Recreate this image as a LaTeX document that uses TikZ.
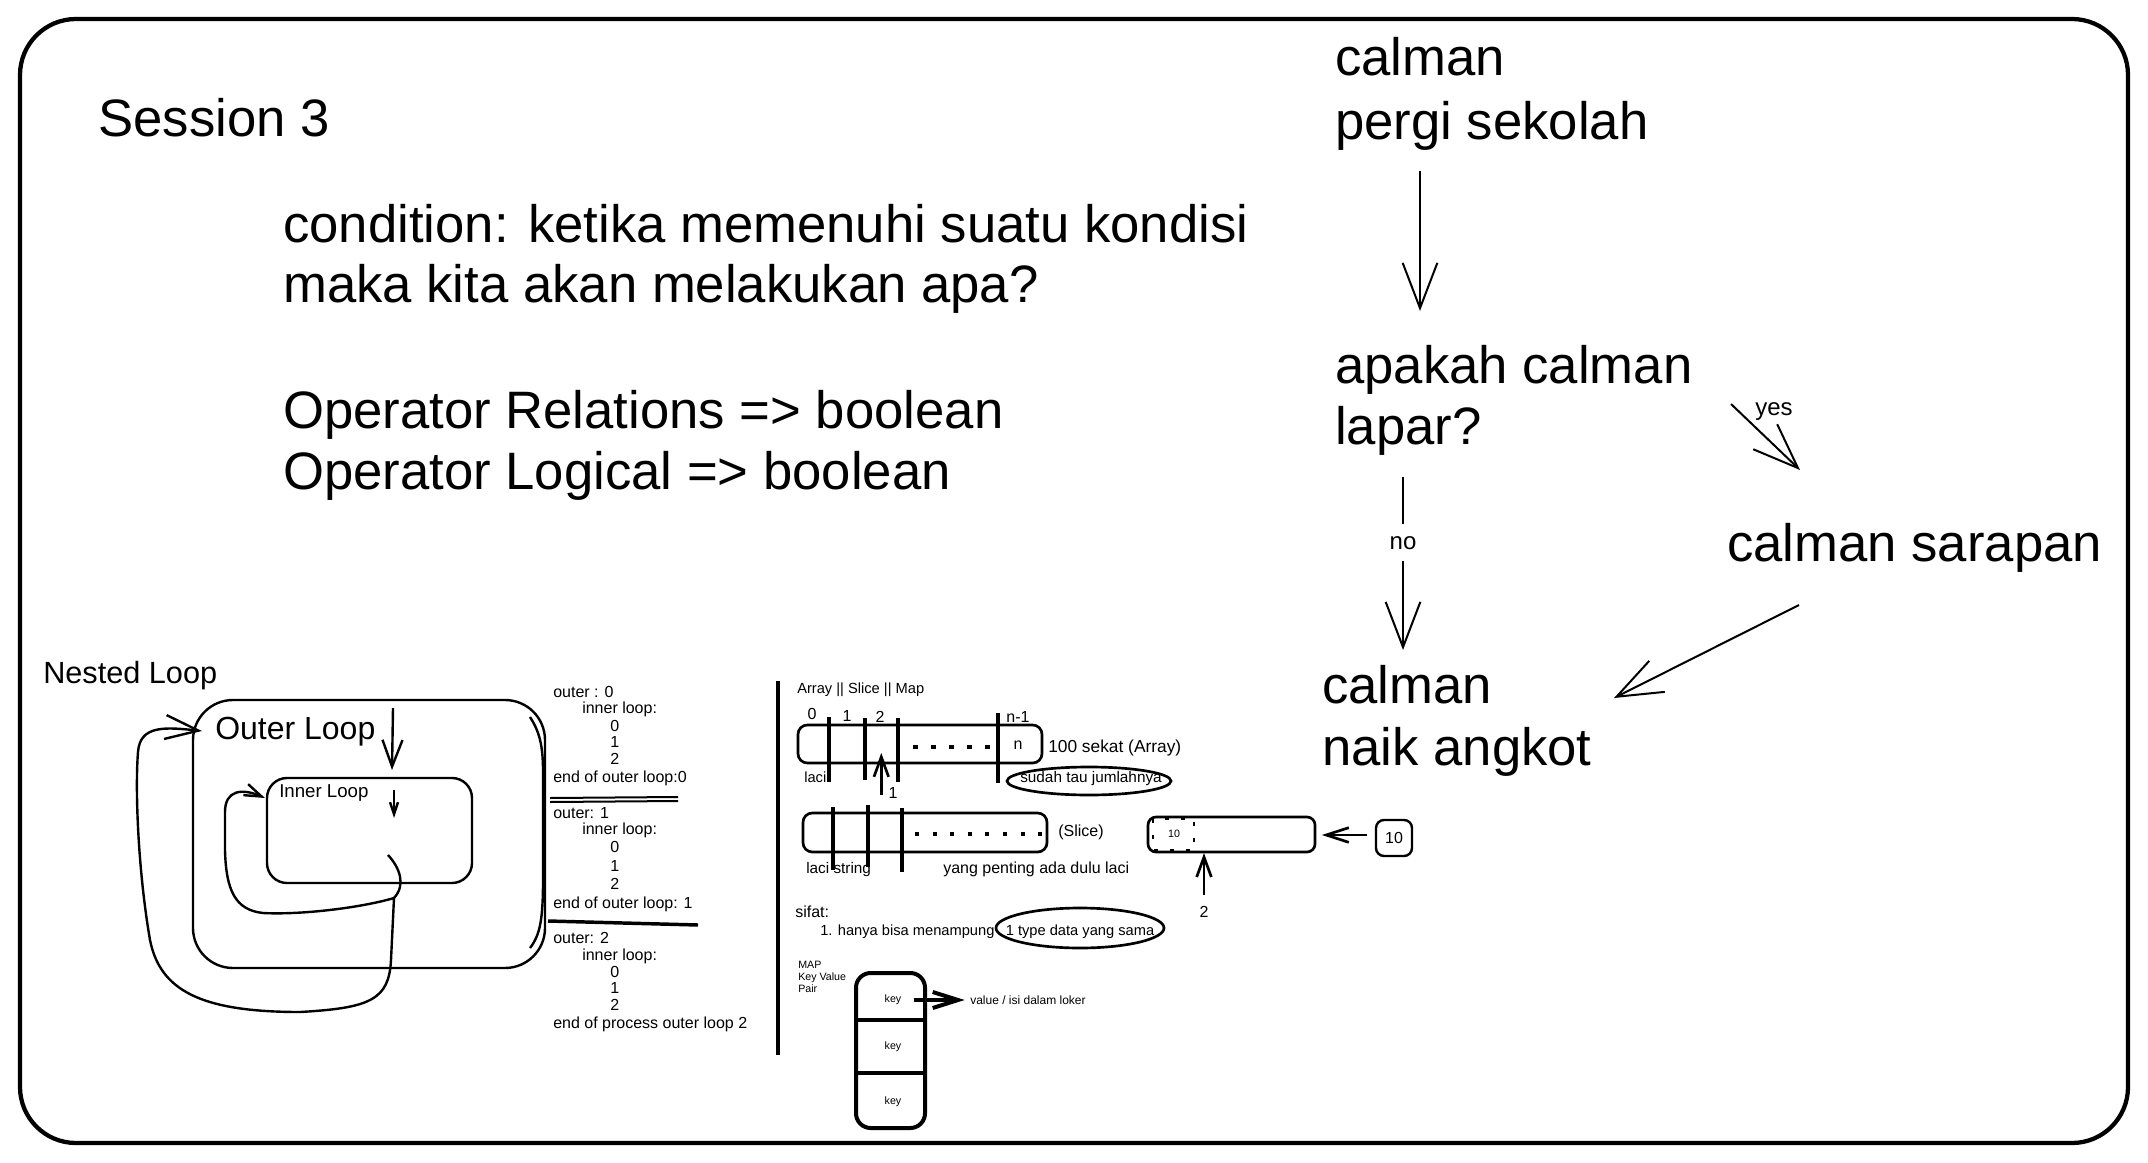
\documentclass[tikz,border=0pt]{standalone}
\usepackage{fontspec}
\setmainfont{Liberation Sans}
\usetikzlibrary{positioning}
\usetikzlibrary{calc}
\usetikzlibrary{arrows.meta}

\begin{document}
\begin{tikzpicture}[x=0.75pt,y=0.75pt,yscale=-1,xscale=1,
        big/.style={anchor=base west,inner sep=0pt,font=\fontsize{39.5}{47}\selectfont},
        tiny/.style={inner sep=0pt,font=\fontsize{12}{14}\selectfont},
        flow/.style={line width=1.5pt,-{Straight Barb[length=34pt,width=26pt]}},
        loopline/.style={line width=1.8pt},
        boxline/.style={line width=2pt},
        sekat/.style={line width=2.4pt},
        uparrow/.style={line width=2pt,-{Straight Barb[length=15pt,width=11pt]}}]
    \useasboundingbox (0,0) rectangle (2148,1163);
    \draw [line width=3.2pt,rounded corners=42pt] (20,19) rectangle (2128,1143);

    % heading and notes
    \node [big] (title) at (98,137) {Session 3};
    \node [big] (cond1) at (283,242) {condition: ketika memenuhi suatu kondisi};
    \node [big] (cond2) at (283,302) {maka kita akan melakukan apa?};
    \node [big] (oprel) at (283,428) {Operator Relations => boolean};
    \node [big] (oplog) at (283,489) {Operator Logical => boolean};

    % flow: calman
    \node [big] (go1) at (1335,76) {calman};
    \node [big] (go2) at (1335,139) {pergi sekolah};
    \node [big] (ask1) at (1335,383) {apakah calman};
    \node [big] (ask2) at (1335,444) {lapar?};
    \node [big] (eat) at (1727,561) {calman sarapan};
    \node [big] (ride1) at (1322,703) {calman};
    \node [big] (ride2) at (1322,765) {naik angkot};

    \draw [flow] ($(go2.base west)+(85,32)$) -- ($(ask1.base west)+(85,-72)$);
    \draw [flow] ($(ask2.base west)+(68,33)$) -- node [pos=0.38,fill=white,inner xsep=2pt,inner ysep=9pt,font=\fontsize{18}{20}\selectfont] (no) {no} ($(ride1.base west)+(81,-53)$);
    \draw [flow] ($(ask1.base west)+(396,21)$) -- node [pos=0.3,anchor=south west,inner sep=2pt,font=\fontsize{18}{20}\selectfont] (yes) {yes} ($(eat.base west)+(73,-91)$);
    \draw [flow] ($(eat.base west)+(72,44)$) -- ($(ride1.base west)+(292,-5)$);

    % nested loop
    \node [anchor=base west,inner sep=0pt,font=\fontsize{23}{26}\selectfont] (nested) at (43,683) {Nested Loop};
    \draw [loopline,rounded corners=30pt] (193,700) rectangle (545,968);
    \draw [loopline,rounded corners=15pt] (267,778) rectangle (472,883);
    \node [anchor=base west,inner sep=0pt,font=\fontsize{24}{27}\selectfont] (outerlbl) at (215,739) {Outer Loop};
    \node [anchor=base west,inner sep=0pt,font=\fontsize{14}{16}\selectfont] (innerlbl) at (279,797) {Inner Loop};
    \draw [loopline,-{Straight Barb[length=20pt,width=15pt]}] (393,708) -- (392,770);
    \draw [loopline,-{Straight Barb[length=9pt,width=6pt]}] (394,790) -- (394,818);
    \draw [loopline,-{Straight Barb[length=25pt,width=18pt]}] (388,855) .. controls (400,868) and (406,885) .. (394,898) -- (391,960) .. controls (389,1000) and (370,1008) .. (300,1012) .. controls (200,1012) and (160,990) .. (150,940) .. controls (138,870) and (135,790) .. (138,752) .. controls (140,725) and (165,727) .. (202,731);
    \draw [loopline,-{Straight Barb[length=13pt,width=9pt]}] (394,898) .. controls (360,908) and (300,915) .. (263,913) .. controls (235,910) and (226,890) .. (225,850) -- (225,812) .. controls (225,790) and (242,788) .. (265,798);

    % trace of the loops
    \foreach \n/\x/\y/\t in {a/553/697/{outer : 0},b/582/713/{inner loop:},c/610/731/0,d/610/747/1,e/610/764/2,f/553/782/{end of outer loop:0},
            g/553/818/{outer: 1},h/582/834/{inner loop:},i/610/852/0,j/610/871/1,k/610/889/2,l/553/908/{end of outer loop: 1},
            m/553/943/{outer: 2},n/582/960/{inner loop:},o/610/977/0,p/610/993/1,q/610/1010/2,r/553/1028/{end of process outer loop 2}}
        \node [tiny,anchor=base west] (ln\n) at (\x,\y) {\t};
    \draw [line width=1.8pt] (530,717) .. controls (545,740) and (543,760) .. (543,800) -- (543,880) .. controls (543,920) and (540,935) .. (530,948);
    \draw [line width=1.5pt] (550,798) -- (678,797);
    \draw [line width=1.5pt] (550,802) -- (678,801);
    \draw [line width=2.6pt] (548,921) -- (698,925);
    \draw [line width=2.5pt] (778,681) -- (778,1055);

    % array
    \node [anchor=base west,inner sep=0pt,font=\fontsize{11}{13}\selectfont] (arrtitle) at (797,693) {Array || Slice || Map};
    \node [tiny] (i0) at (812,714) {0};
    \node [tiny] (i1) at (847,716) {1};
    \node [tiny] (i2) at (880,717) {2};
    \node [tiny] (in) at (1018,717) {n-1};
    \draw [boxline,rounded corners=7pt] (798,725) rectangle (1042,763);
    \draw [sekat] (829,717) -- (829,782);
    \draw [sekat] (865,718) -- (865,780);
    \draw [sekat] (898,718) -- (898,782);
    \draw [sekat] (998,713) -- (998,783);
    \draw [sekat,dash pattern=on 3.75pt off 9.75pt] (913,747) -- (990,747);
    \node [tiny] (cn) at (1018,745) {n};
    \node [tiny,anchor=west,font=\fontsize{13}{15}\selectfont] (hundred) at (1048,748) {100 sekat (Array)};
    \node [tiny,anchor=west,font=\fontsize{11}{13}\selectfont] (laci) at (804,777) {laci};
    \node [tiny] (one) at (893,793) {1};
    \draw [uparrow] ($(one.west)+(-7,2)$) -- ($(one.west)+(-7,-40)$);
    \draw [boxline] (1089,781) ellipse [x radius=82,y radius=14];
    \node [tiny,font=\fontsize{11.5}{13}\selectfont] (known) at (1091,779) {sudah tau jumlahnya};

    % slice
    \draw [boxline,rounded corners=7pt] (803,813) rectangle (1047,852);
    \draw [sekat] (833,807) -- (833,870);
    \draw [sekat] (868,805) -- (868,867);
    \draw [sekat] (902,808) -- (902,872);
    \draw [sekat,dash pattern=on 3pt off 10.2pt] (915,834) -- (1043,834);
    \node [tiny,anchor=west] (slice) at (1058,832) {(Slice)};
    \node [tiny,anchor=west,font=\fontsize{11.5}{13}\selectfont] (lacistr) at (806,870) {laci string};
    \node [tiny,anchor=west] (penting) at (943,869) {yang penting ada dulu laci};

    \draw [boxline,rounded corners=6pt] (1148,817) rectangle (1315,852);
    \draw [line width=1.8pt,dash pattern=on 3pt off 9pt] (1153,819) rectangle (1194,850);
    \node [inner sep=0pt,font=\fontsize{8}{9}\selectfont] (ten1) at (1174,834) {10};
    \node [draw,line width=1.8pt,rounded corners=6pt,minimum size=27pt,inner sep=0pt,font=\fontsize{12}{14}\selectfont] (ten) at (1394,838) {10};
    \draw [line width=2pt,-{Straight Barb[length=17pt,width=11pt]}] ($(ten.west)+(-8,-3)$) -- ($(ten.west)+(-53,-3)$);
    \node [tiny] (two) at (1204,912) {2};
    \draw [uparrow] ($(two.north)+(0,-11)$) -- ($(two.north)+(0,-53)$);

    % sifat
    \node [tiny,anchor=west] (sifat) at (795,912) {sifat:};
    \node [tiny,anchor=west,font=\fontsize{11}{13}\selectfont] (hanya) at (820,932) {1. hanya bisa menampung};
    \draw [boxline] (1080,928) ellipse [x radius=84,y radius=20];
    \node [tiny,font=\fontsize{11}{13}\selectfont] (sama) at (1080,932) {1 type data yang sama};

    % map
    \node [anchor=north west,inner sep=0pt,align=left,font=\fontsize{8}{9}\selectfont] (maplbl) at (798,961) {MAP\\Key Value\\Pair};
    \draw [line width=3pt,rounded corners=11pt] (856,973) rectangle (925,1128);
    \draw [line width=3pt] (856,1020) -- (925,1020);
    \draw [line width=3pt] (856,1073) -- (925,1073);
    \node [inner sep=0pt,font=\fontsize{8}{9}\selectfont] (key1) at (893,1000) {key};
    \node [inner sep=0pt,font=\fontsize{8}{9}\selectfont] (key2) at (893,1047) {key};
    \node [inner sep=0pt,font=\fontsize{8}{9}\selectfont] (key3) at (893,1102) {key};
    \node [anchor=west,inner sep=0pt,font=\fontsize{9}{10}\selectfont] (val) at (970,1000) {value / isi dalam loker};
    \draw [line width=3pt,-{Straight Barb[length=19pt,width=12pt]},shorten <=9pt,shorten >=4pt] (key1.east) -- (val.west);
\end{tikzpicture}
\end{document}
